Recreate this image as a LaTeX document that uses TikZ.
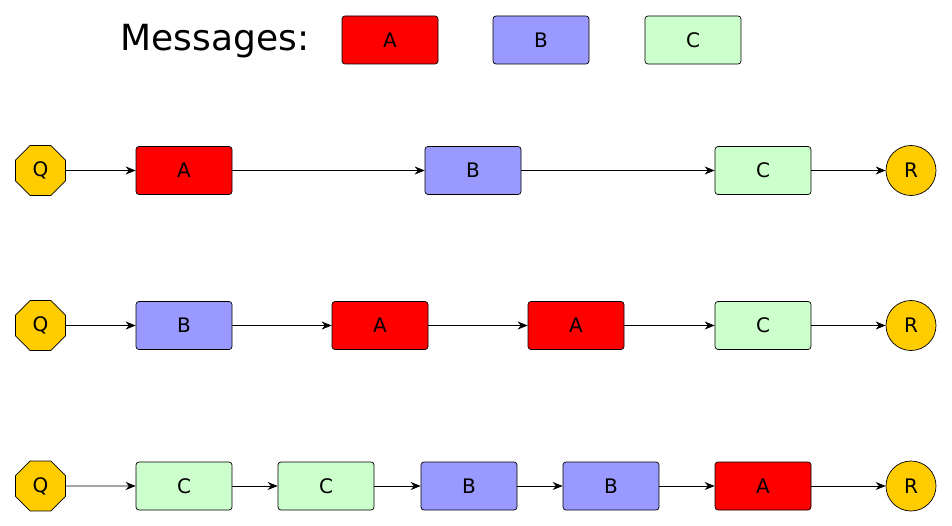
\documentclass[tikz,border=0pt]{standalone}
\usepackage{fontspec}
\setmainfont{DejaVu Sans}
\usetikzlibrary{shapes.geometric,arrows.meta}
\definecolor{msgA}{HTML}{FF0000}
\definecolor{msgB}{HTML}{9999FF}
\definecolor{msgC}{HTML}{CCFFCC}
\definecolor{endpt}{HTML}{FFCC00}
\begin{document}
\begin{tikzpicture}[x=1pt,y=-1pt,
  msg/.style={draw=black,line width=0.7pt,rounded corners=3pt,minimum width=96pt,minimum height=48pt,inner sep=0pt,font=\fontsize{20}{24}\selectfont},
  ma/.style={msg,fill=msgA},
  mb/.style={msg,fill=msgB},
  mc/.style={msg,fill=msgC},
  src/.style={draw=black,line width=0.7pt,fill=endpt,regular polygon,regular polygon sides=8,minimum size=54pt,inner sep=0pt,font=\fontsize{20}{24}\selectfont},
  dst/.style={draw=black,line width=0.7pt,fill=endpt,circle,minimum size=50pt,inner sep=0pt,font=\fontsize{20}{24}\selectfont},
  link/.style={line width=0.8pt,-{Stealth[length=10pt,width=8pt]}}]
\useasboundingbox (0,0) rectangle (952,526);
% legend
\node[font=\fontsize{36}{40}\selectfont] (title) at (215,41) {Messages:};
\node[ma] (lA) at (390,40) {A};
\node[mb] (lB) at (541,40) {B};
\node[mc] (lC) at (693,40) {C};
% row 1
\node[src] (q1) at (40.5,170.5) {Q};
\node[ma] (a11) at (184,170.5) {A};
\node[mb] (a12) at (473,170.5) {B};
\node[mc] (a13) at (763,170.5) {C};
\node[dst] (r1) at (911,170.5) {R};
\draw[link] (q1) -- (a11);
\draw[link] (a11) -- (a12);
\draw[link] (a12) -- (a13);
\draw[link] (a13) -- (r1);
% row 2
\node[src] (q2) at (40.5,325.5) {Q};
\node[mb] (a21) at (184,325.5) {B};
\node[ma] (a22) at (380,325.5) {A};
\node[ma] (a23) at (576,325.5) {A};
\node[mc] (a24) at (763,325.5) {C};
\node[dst] (r2) at (911,325.5) {R};
\draw[link] (q2) -- (a21);
\draw[link] (a21) -- (a22);
\draw[link] (a22) -- (a23);
\draw[link] (a23) -- (a24);
\draw[link] (a24) -- (r2);
% row 3
\node[src] (q3) at (40.5,486) {Q};
\node[mc] (a31) at (184,486) {C};
\node[mc] (a32) at (326,486) {C};
\node[mb] (a33) at (469,486) {B};
\node[mb] (a34) at (611,486) {B};
\node[ma] (a35) at (763,486) {A};
\node[dst] (r3) at (911,486) {R};
\draw[link] (q3) -- (a31);
\draw[link] (a31) -- (a32);
\draw[link] (a32) -- (a33);
\draw[link] (a33) -- (a34);
\draw[link] (a34) -- (a35);
\draw[link] (a35) -- (r3);
\end{tikzpicture}
\end{document}
